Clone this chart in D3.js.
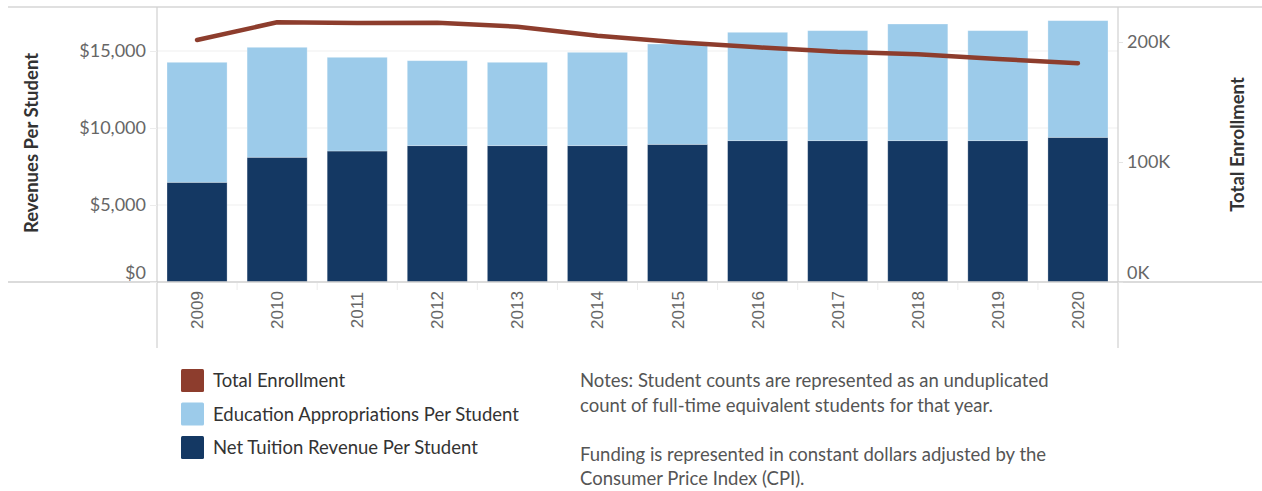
<!DOCTYPE html>
<html><head><meta charset="utf-8">
<script src="https://cdn.jsdelivr.net/npm/d3@7"></script>
<style>
html,body{margin:0;padding:0;background:#fff;}
svg{display:block;font-family:Lato,"Open Sans",sans-serif;}
</style></head>
<body>
<svg id="chart" width="1262" height="491"></svg>
<script>
const years = ["2009","2010","2011","2012","2013","2014","2015","2016","2017","2018","2019","2020"];
const netTuition = [6474, 8100, 8506, 8853, 8853, 8853, 8939, 9177, 9177, 9177, 9177, 9394];
const educationApprop = [7792, 7140, 6084, 5517, 5413, 6062, 6516, 7037, 7143, 7576, 7143, 7576];
const enrollment = [201700, 216400, 215800, 216100, 212800, 205300, 199800, 195600, 191900, 189800, 185800, 182300];
const leftTicks = [0, 5000, 10000, 15000];
const rightTicks = [0, 100000, 200000];
const legendItems = ["Total Enrollment", "Education Appropriations Per Student", "Net Tuition Revenue Per Student"];
const notes = ["Notes: Student counts are represented as an unduplicated", "count of full-time equivalent students for that year.", "", "Funding is represented in constant dollars adjusted by the", "Consumer Price Index (CPI)."];

(function(){
const colNet = "#143863", colEdu = "#9ccbea", colLine = "#8d3d2d";
const svg = d3.select("#chart");
const left = 157, right = 1118, topY = 7, base = 282, bottomAxis = 348;

const x = d3.scaleBand().domain(years).range([left, right]).paddingInner(0.25).paddingOuter(0.125);
const y = d3.scaleLinear().domain([0, 15000]).range([base, 51]);
const y2 = d3.scaleLinear().domain([0, 200000]).range([base, 42]);

// gridlines
svg.append("g").selectAll("line").data(leftTicks.slice(1)).join("line")
  .attr("x1", left).attr("x2", right).attr("y1", d => y(d)).attr("y2", d => y(d))
  .attr("stroke", "#efefef").attr("stroke-width", 1);

// frame lines
svg.append("line").attr("x1", 8).attr("x2", 1262).attr("y1", topY).attr("y2", topY).attr("stroke", "#d6d6d6").attr("stroke-width", 1.5);
svg.append("line").attr("x1", left).attr("x2", left).attr("y1", topY).attr("y2", bottomAxis).attr("stroke", "#d0d0d0").attr("stroke-width", 1.2);
svg.append("line").attr("x1", right).attr("x2", right).attr("y1", topY).attr("y2", bottomAxis).attr("stroke", "#d0d0d0").attr("stroke-width", 1.2);

// bars
const stackData = years.map((yr, i) => ({year: yr, net: netTuition[i], edu: educationApprop[i]}));
const stack = d3.stack().keys(["net", "edu"])(stackData);
const colors = {net: colNet, edu: colEdu};
svg.append("g").selectAll("g").data(stack).join("g")
  .attr("fill", d => colors[d.key])
  .selectAll("rect").data(d => d).join("rect")
  .attr("x", d => x(d.data.year)).attr("width", x.bandwidth())
  .attr("y", d => y(d[1])).attr("height", d => y(d[0]) - y(d[1]))
  .attr("stroke", "rgba(255,255,255,0.35)").attr("stroke-width", 0.8);

// baseline
svg.append("line").attr("x1", 8).attr("x2", 1262).attr("y1", base).attr("y2", base).attr("stroke", "#cfcfcf").attr("stroke-width", 1.5);

// x separators
svg.append("g").selectAll("line").data(years.slice(1)).join("line")
  .attr("x1", d => x(d) - x.step() * x.paddingInner() / 2).attr("x2", d => x(d) - x.step() * x.paddingInner() / 2)
  .attr("y1", base + 1).attr("y2", base + 8).attr("stroke", "#ececec");

// left axis
const yAxis = d3.axisLeft(y).tickValues(leftTicks).tickFormat(d => "$" + d3.format(",")(d)).tickSize(7).tickPadding(4);
const gy = svg.append("g").attr("transform", `translate(${left},0)`).call(yAxis);
gy.select(".domain").remove();
gy.selectAll(".tick line").attr("stroke", "#ececec");
gy.selectAll(".tick text").attr("fill", "#666").style("font-size", "18px").style("font-family", "Lato, sans-serif")
  .attr("dy", d => d === 0 ? "-0.2em" : "0.32em");

// right axis
const yAxis2 = d3.axisRight(y2).tickValues(rightTicks).tickFormat(d => (d / 1000) + "K").tickSize(5).tickPadding(4);
const gy2 = svg.append("g").attr("transform", `translate(${right},0)`).call(yAxis2);
gy2.select(".domain").remove();
gy2.selectAll(".tick line").attr("stroke", "#e4e4e4");
gy2.selectAll(".tick text").attr("fill", "#666").style("font-size", "18px").style("font-family", "Lato, sans-serif")
  .attr("dy", d => d === 0 ? "-0.2em" : "0.32em");

// x labels
svg.append("g").selectAll("text").data(years).join("text")
  .attr("transform", d => `translate(${x(d) + x.bandwidth() / 2 + 6},${310}) rotate(-90)`)
  .attr("text-anchor", "middle")
  .attr("fill", "#666").style("font-size", "17px").style("font-family", "'Liberation Sans', Arial, sans-serif")
  .text(d => d);

// line
const line = d3.line().x((d, i) => x(years[i]) + x.bandwidth() / 2).y(d => y2(d));
svg.append("path").datum(enrollment).attr("d", line)
  .attr("fill", "none").attr("stroke", colLine).attr("stroke-width", 4.5)
  .attr("stroke-linecap", "round").attr("stroke-linejoin", "round");

// axis titles
svg.append("text").attr("transform", "translate(38,143) rotate(-90)").attr("text-anchor", "middle")
  .attr("fill", "#333").style("font-size", "18.5px").style("font-weight", "bold").text("Revenues Per Student");
svg.append("text").attr("transform", "translate(1244,144.5) rotate(-90)").attr("text-anchor", "middle")
  .attr("fill", "#333").style("font-size", "18.5px").style("font-weight", "bold").text("Total Enrollment");

// legend
const legColors = [colLine, colEdu, colNet];
const lg = svg.append("g").selectAll("g").data(legendItems).join("g")
  .attr("transform", (d, i) => `translate(181,${369 + i * 33.5})`);
lg.append("rect").attr("width", 23).attr("height", 23).attr("rx", 1.5).attr("fill", (d, i) => legColors[i]);
lg.append("text").attr("x", 32).attr("y", 12).attr("dy", "0.35em").attr("fill", "#333")
  .style("font-size", "18.5px").text(d => d);

// notes
svg.append("g").selectAll("text").data(notes).join("text")
  .attr("x", 580).attr("y", (d, i) => 381 + i * 24.5).attr("dy", "0.35em")
  .attr("fill", "#555").style("font-size", "18.5px").text(d => d);
})();
</script>
</body></html>
